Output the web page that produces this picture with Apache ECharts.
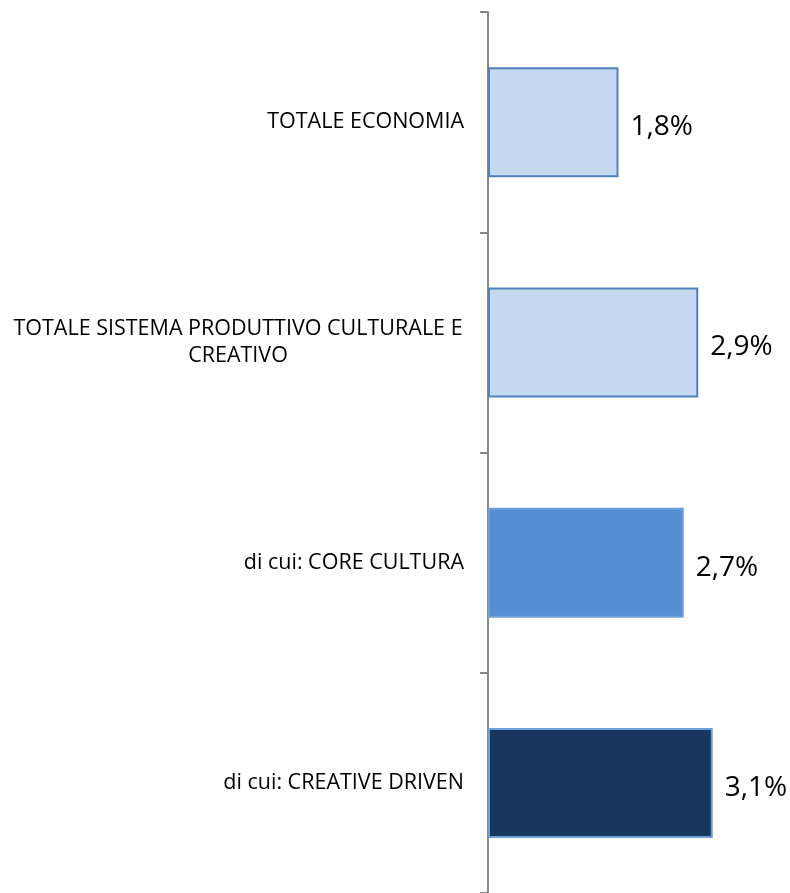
<!DOCTYPE html>
<html>
<head>
<meta charset="utf-8">
<script src="https://cdn.jsdelivr.net/npm/echarts@6/dist/echarts.min.js"></script>
<style>
  html, body { margin: 0; padding: 0; background: #fff; }
  #chart { width: 790px; height: 893px; }
</style>
</head>
<body>
<div id="chart"></div>
<script>
  const categories = [
    'TOTALE ECONOMIA',
    'TOTALE SISTEMA PRODUTTIVO CULTURALE E\nCREATIVO',
    'di cui: CORE CULTURA',
    'di cui: CREATIVE DRIVEN'
  ]
  const values = [1.8, 2.9, 2.7, 3.1]
  const fills = ['#C6D9F0', '#C6D9F0', '#558ED5', '#17375E']
  const borders = ['#4F81BD', '#4F81BD', '#6E9FDB', '#6E9FDB']

  let chart = echarts.init(document.getElementById('chart'))

  chart.setOption({
    animation: false,
    grid: {
      left: 488,
      top: 12,
      width: 290,
      height: 884
    },
    xAxis: {
      type: 'value',
      min: 0,
      max: 4,
      show: false
    },
    yAxis: {
      type: 'category',
      inverse: true,
      data: categories,
      axisLine: {
        show: true,
        lineStyle: { color: '#888888', width: 2 }
      },
      axisTick: {
        show: true,
        length: 8,
        lineStyle: { color: '#888888', width: 2 }
      },
      axisLabel: {
        margin: 24,
        fontFamily: 'Open Sans',
        fontSize: 21.5,
        color: '#000',
        lineHeight: 27,
        formatter: function (val) {
          if (val.indexOf('\n') >= 0) {
            return val.split('\n').map(function (s) {
              return '{c|' + s + '}'
            }).join('\n')
          }
          return val
        },
        rich: {
          c: {
            width: 452,
            align: 'center',
            fontFamily: 'Open Sans',
            fontSize: 21.5,
            lineHeight: 27,
            color: '#000'
          }
        }
      }
    },
    series: [
      {
        type: 'bar',
        barWidth: 110,
        data: values.map(function (v, i) {
          return {
            value: v,
            itemStyle: {
              color: fills[i],
              borderColor: borders[i],
              borderWidth: 2
            }
          }
        }),
        label: {
          show: true,
          position: 'right',
          distance: 12,
          fontFamily: 'Open Sans',
          fontSize: 28,
          color: '#000',
          offset: [0, 5],
          formatter: function (p) {
            return p.value.toFixed(1).replace('.', ',') + '%'
          }
        }
      }
    ]
  })
</script>
</body>
</html>
